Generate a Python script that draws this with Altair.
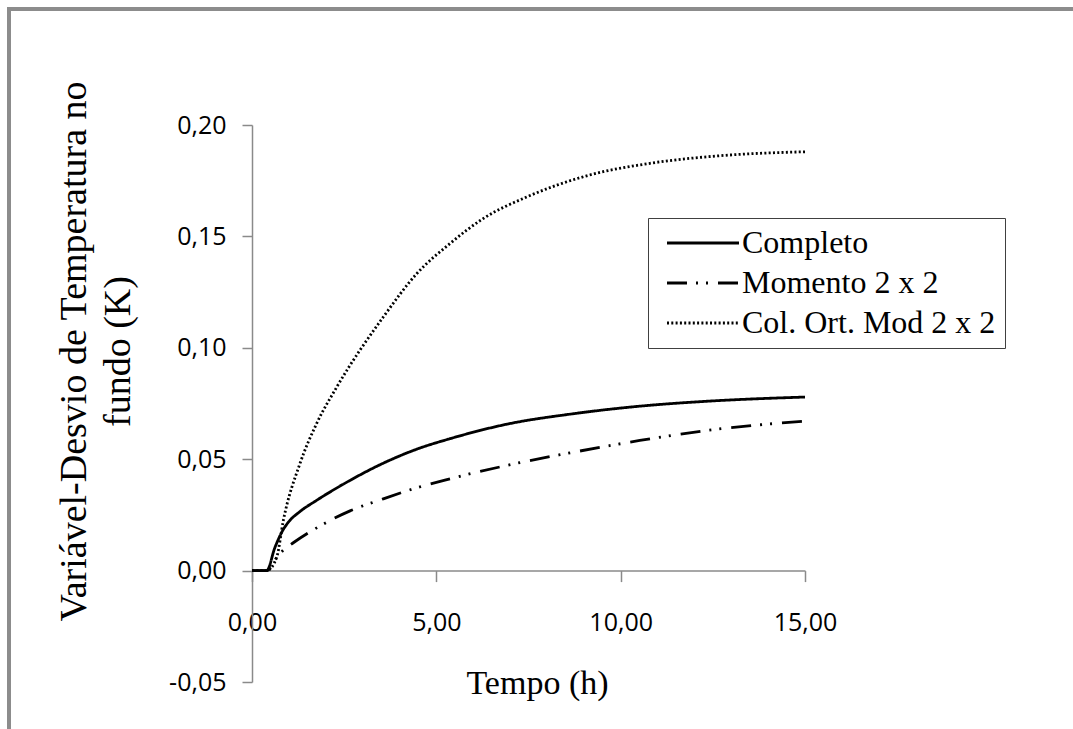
import altair as alt
import pandas as pd

# ---- data ----
series_names = ["Completo", "Momento 2 x 2", "Col. Ort. Mod 2 x 2"]

t_completo = [0.00, 0.40, 0.62, 0.85, 1.00, 1.30, 1.75, 2.66, 3.56, 4.47, 5.37, 6.91, 8.71, 10.52, 12.33, 15.00]
v_completo = [0.000, 0.000, 0.0103, 0.0185, 0.0220, 0.0265, 0.0315, 0.0405, 0.0482, 0.0545, 0.0592, 0.0657, 0.0704, 0.0738, 0.0760, 0.0779]

t_momento = [0.00, 0.40, 0.67, 0.85, 1.12, 1.84, 2.66, 3.56, 4.47, 5.37, 6.91, 8.71, 10.52, 12.33, 15.00]
v_momento = [0.000, 0.000, 0.0058, 0.0092, 0.0125, 0.0200, 0.0268, 0.0322, 0.0372, 0.0412, 0.0472, 0.0531, 0.0584, 0.0629, 0.0671]

t_colort = [0.00, 0.40, 0.67, 0.85, 1.30, 1.75, 2.30, 3.56, 4.47, 5.37, 6.27, 7.45, 9.08, 10.88, 12.69, 15.00]
v_colort = [0.000, 0.000, 0.0060, 0.0225, 0.0480, 0.0659, 0.0824, 0.1138, 0.1333, 0.1468, 0.1580, 0.1677, 0.1772, 0.1830, 0.1862, 0.1880]

x_ticks = [0, 5, 10, 15]
y_ticks = [-0.05, 0.00, 0.05, 0.10, 0.15, 0.20]

# ---- build table ----
rows = []
for name, ts, vs in zip(series_names,
                        [t_completo, t_momento, t_colort],
                        [v_completo, v_momento, v_colort]):
    for t, v in zip(ts, vs):
        rows.append({"serie": name, "tempo": t, "valor": v})
df = pd.DataFrame(rows)

W, H = 553, 557
LEFT, TOP = 252, 125
AXIS_GRAY = "#8a8a8a"

label_expr = "replace(replace(format(datum.value, '.2f'), '.', ','), '\u2212', '-')"

lines = alt.Chart(df).mark_line(color="black", strokeWidth=2.8, interpolate="monotone").encode(
    x=alt.X("tempo:Q",
            scale=alt.Scale(domain=[0, 15], nice=False, zero=False),
            axis=alt.Axis(values=x_ticks, labelExpr=label_expr, grid=False,
                          offset=-111.4, tickSize=11, labelPadding=29, labelFlush=False,
                          domainColor=AXIS_GRAY, tickColor=AXIS_GRAY,
                          domainWidth=1.5, tickWidth=1.5,
                          labelFont="Open Sans", labelFontSize=25, labelColor="black",
                          title="Tempo (h)", titleFont="Liberation Serif",
                          titleFontSize=34, titleFontWeight="normal", titleColor="black",
                          titleX=285, titleY=123, titleAlign="center",
                          titleBaseline="alphabetic")),
    y=alt.Y("valor:Q",
            scale=alt.Scale(domain=[-0.05, 0.20], nice=False, zero=False),
            axis=alt.Axis(values=y_ticks, labelExpr=label_expr, grid=False,
                          tickSize=10, labelPadding=16, labelFlush=False,
                          domainColor=AXIS_GRAY, tickColor=AXIS_GRAY,
                          domainWidth=1.5, tickWidth=1.5,
                          labelFont="Open Sans", labelFontSize=25, labelColor="black",
                          title=["Variável-Desvio de Temperatura no", "fundo (K)"],
                          titleFont="Liberation Serif", titleFontSize=38,
                          titleFontWeight="normal", titleColor="black",
                          titleLineHeight=44, titleAngle=270,
                          titleX=-167, titleY=226, titleAlign="center",
                          titleBaseline="alphabetic")),
    strokeDash=alt.StrokeDash("serie:N",
                              scale=alt.Scale(domain=series_names,
                                              range=[[1, 0], [20, 9, 2, 8, 2, 10], [2, 2.3]]),
                              sort=series_names,
                              legend=alt.Legend(title=None, orient="none",
                                                legendX=396, legendY=93,
                                                symbolType="M-0.5,0H5.5", symbolSize=576,
                                                symbolStrokeWidth=2.8,
                                                symbolStrokeColor="black",
                                                labelFont="Liberation Serif",
                                                labelFontSize=32, labelColor="black",
                                                labelOffset=53, labelLimit=500,
                                                padding=9, rowPadding=8,
                                                strokeColor="#404040", fillColor="white",
                                                cornerRadius=0)),
)

frame_left = alt.Chart(df).mark_rule(color="#8c8c8c", strokeWidth=3).encode(
    x=alt.value(-243), y=alt.value(-117), y2=alt.value(740 - TOP))
frame_top = alt.Chart(df).mark_rule(color="#8c8c8c", strokeWidth=3).encode(
    x=alt.value(-244.5), x2=alt.value(1080 - LEFT), y=alt.value(-116))

chart = alt.layer(frame_left, frame_top, lines).properties(
    width=W, height=H,
    autosize=alt.AutoSizeParams(type="none"),
    padding={"left": LEFT, "top": TOP, "right": 1073 - LEFT - W, "bottom": 729 - TOP - H},
    background="white",
).configure_view(stroke=None)

chart.save("out.html", embed_options={"renderer": "svg", "actions": False})
